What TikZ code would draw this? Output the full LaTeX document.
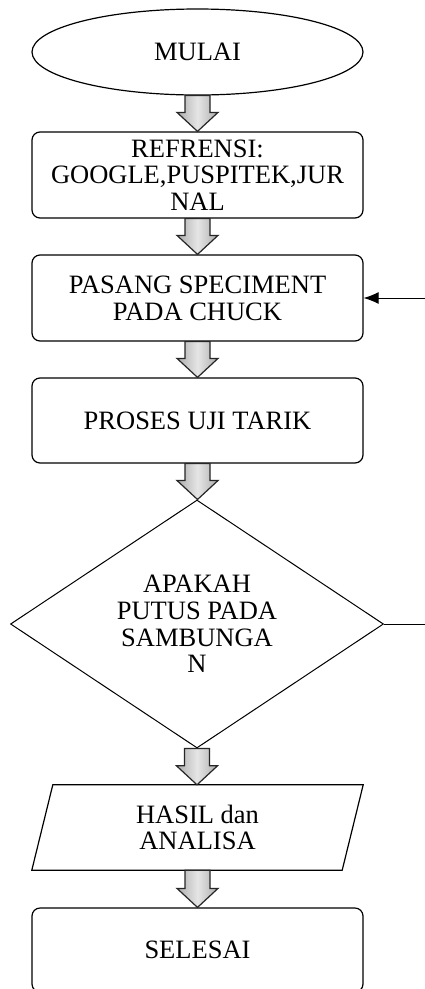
\documentclass[tikz,border=0pt]{standalone}
\usepackage{fontspec}
\setmainfont{Liberation Serif}
\usetikzlibrary{shapes.geometric,calc,arrows.meta}
\newcommand\blockarr[2]{%
  \draw[barrow] let \p1=(#1.south), \p2=(#2.north) in
    (\x1-12.5pt,\y1) -- (\x1+12.5pt,\y1) -- (\x1+12.5pt,\y2+19pt) --
    (\x1+20.5pt,\y2+19pt) -- (\x1,\y2) -- (\x1-20.5pt,\y2+19pt) --
    (\x1-12.5pt,\y2+19pt) -- cycle;}
\begin{document}
\begin{tikzpicture}[x=1pt,y=-1pt,
  txt/.style={font=\fontsize{26.5}{26.7}\selectfont, align=center, text=black},
  box/.style={txt, draw, line width=1.2pt, rounded corners=8pt, minimum width=331pt, inner sep=0pt},
  barrow/.style={draw=black!85, line width=1.2pt, left color=gray!65, right color=gray!65, middle color=gray!20}]
\clip (0,0) rectangle (425,989);
\fill[white] (0,0) rectangle (425,989);
\node[txt, draw, ellipse, line width=1.2pt, minimum width=331pt, minimum height=86pt, inner sep=0pt] (mulai) at (197.5,52) {MULAI};
\node[box, minimum height=86pt] (ref) at (197.5,175) {REFRENSI:\\GOOGLE,PUSPITEK,JUR\\NAL};
\node[box, minimum height=86pt] (pasang) at (197.5,298) {PASANG SPECIMENT\\PADA CHUCK};
\node[box, minimum height=85pt] (proses) at (197.5,420.5) {PROSES UJI TARIK};
\node[txt, draw, diamond, aspect=1.5, line width=1pt, minimum width=373pt, minimum height=248pt, inner sep=0pt] (dec) at (197,624) {APAKAH\\PUTUS PADA\\SAMBUNGA\\N};
\node[txt, minimum width=331pt, minimum height=85pt, inner sep=0pt] (hasil) at (197.5,827.5) {HASIL dan\\ANALISA};
\draw[line width=1.2pt] ([xshift=21pt]hasil.north west) -- (hasil.north east) -- ([xshift=-21pt]hasil.south east) -- (hasil.south west) -- cycle;
\node[box, minimum height=84pt] (selesai) at (197.5,950) {SELESAI};
\blockarr{mulai}{ref}
\blockarr{ref}{pasang}
\blockarr{pasang}{proses}
\blockarr{proses}{dec}
\blockarr{dec}{hasil}
\blockarr{hasil}{selesai}
\coordinate (r1) at (425,298);
\coordinate (r2) at (425,626);
\draw[line width=1pt, -{Latex[length=15pt,width=12pt]}] (r1) -- (pasang.east);
\draw[line width=1pt] (dec.east) -- (dec.east -| r2);
\end{tikzpicture}
\end{document}
